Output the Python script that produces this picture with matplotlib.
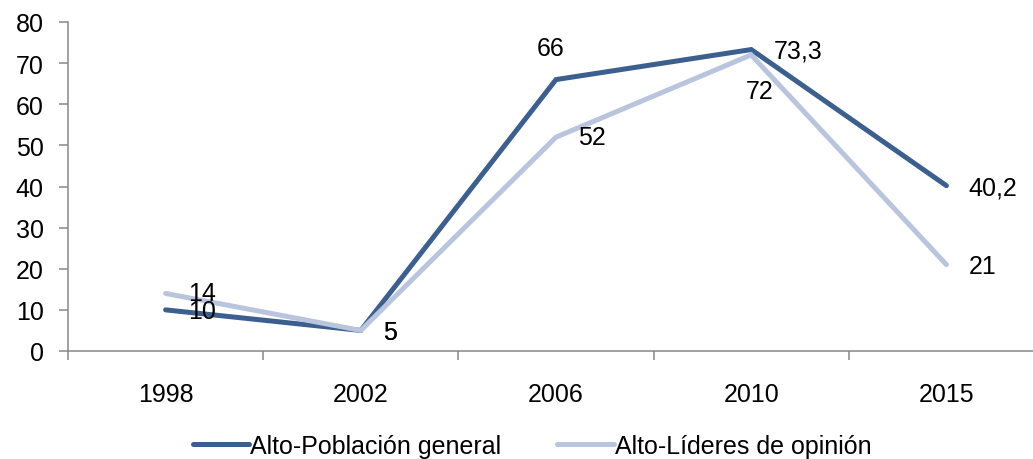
import matplotlib
matplotlib.use("Agg")
import matplotlib.pyplot as plt
from matplotlib.ticker import FixedLocator

# Data
years = ["1998", "2002", "2006", "2010", "2015"]
poblacion = [10, 5, 66, 73.3, 40.2]
lideres = [14, 5, 52, 72, 21]
poblacion_labels = ["10", "5", "66", "73,3", "40,2"]
lideres_labels = ["14", "5", "52", "72", "21"]
series_names = ["Alto-Población general", "Alto-Líderes de opinión"]

dark = "#3B5F8F"
light = "#B8C5DD"
axis_grey = "#888888"

plt.rcParams["font.family"] = ["Liberation Sans", "DejaVu Sans"]

fig = plt.figure(figsize=(10.33, 4.6), dpi=100)
ax = fig.add_axes([68 / 1033, 108 / 460, 976 / 1033, 329 / 460])

x = range(len(years))
l1, = ax.plot(x, poblacion, color=dark, lw=3.6, solid_capstyle="round", solid_joinstyle="miter")
l2, = ax.plot(x, lideres, color=light, lw=3.6, solid_capstyle="round", solid_joinstyle="miter")

# label offsets in points (right of point by default; a couple sit above/below)
def off(ha, dx, dy):
    return dict(ha=ha, xytext=(dx, dy))

pob_pos = [off("left", 16, -1), off("left", 16, -1), off("center", -4, 23),
           off("left", 16, -1), off("left", 16, -1)]
lid_pos = [off("left", 16, 0), off("left", 16, -1), off("left", 16, 0),
           off("center", 6, -26), off("left", 16, -1)]

for i in x:
    p = pob_pos[i]
    ax.annotate(poblacion_labels[i], (i, poblacion[i]), textcoords="offset points",
                xytext=p["xytext"], ha=p["ha"], va="center", fontsize=18, color="black")
    q = lid_pos[i]
    ax.annotate(lideres_labels[i], (i, lideres[i]), textcoords="offset points",
                xytext=q["xytext"], ha=q["ha"], va="center", fontsize=18, color="black")

ax.set_xlim(-0.5, 4.5)
ax.set_ylim(0, 80)
ax.set_yticks(range(0, 81, 10))
ax.set_xticks(list(x))
ax.set_xticklabels(years)
ax.xaxis.set_minor_locator(FixedLocator([i - 0.5 for i in range(len(years) + 1)]))

ax.tick_params(axis="x", which="major", length=0, pad=22, labelsize=18)
ax.tick_params(axis="x", which="minor", length=6.5, width=1.1, color=axis_grey, direction="out")
ax.tick_params(axis="y", length=6.5, width=1.1, color=axis_grey, pad=11, labelsize=18)

for s in ["top", "right"]:
    ax.spines[s].set_visible(False)
for s in ["left", "bottom"]:
    ax.spines[s].set_color(axis_grey)
    ax.spines[s].set_linewidth(1.1)

leg = fig.legend([l1, l2], series_names, loc="center", bbox_to_anchor=(532 / 1033, 1 - 447 / 460),
                 ncol=2, frameon=False, handlelength=2.25, handletextpad=0.05, columnspacing=2.25,
                 prop={"size": 18})
for h in leg.legend_handles:
    h.set_linewidth(3.6)

fig.savefig("out.png", dpi=100)
